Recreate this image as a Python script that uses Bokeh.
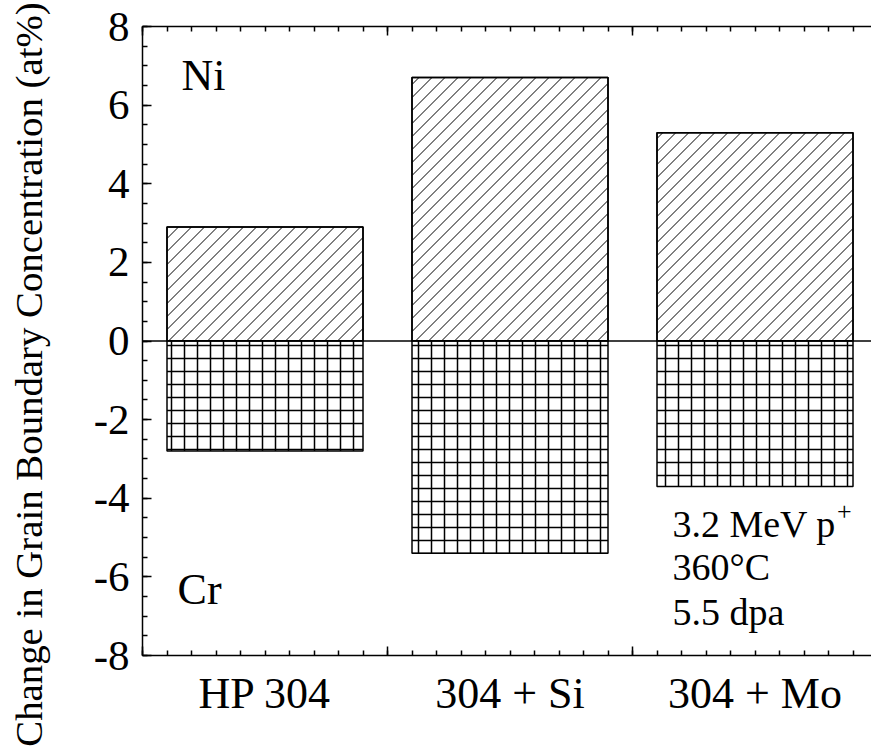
import numpy as np
from bokeh.plotting import figure
from bokeh.layouts import row
from bokeh.models import Range1d, LinearAxis, FixedTicker, Span, Div
from bokeh.core.properties import value
from bokeh.embed import file_html
from bokeh.resources import INLINE

# ---- data ----
categories = ["HP 304", "304 + Si", "304 + Mo"]
ni_change = [2.9, 6.7, 5.3]
cr_change = [-2.8, -5.4, -3.7]
x_pos = [0.5, 1.5, 2.5]
x_bounds = [0, 1, 2, 3]
y_ticks = [-8, -6, -4, -2, 0, 2, 4, 6, 8]
y_tick_labels = ["-8", "-6", "-4", "-2", "0", "2", "4", "6", "8"]
y_title = "Change in Grain Boundary Concentration (at%)"
note_lines = ["3.2 MeV p", "360°C", "5.5 dpa"]

FONT = "Liberation Serif"
BAR_W = 0.8

TOTAL_W, H = 871, 753
LW = 60                      # width of the strip holding the y title
W = TOTAL_W - LW
BL, BR, BT = 142 - LW, 0, 26
FRAME_H = 629
BB = H - BT - FRAME_H
px_per_unit = 245.0
x_end = (W - BL - BR) / px_per_unit
Y0, Y1 = -8, 8
px_per_yunit = FRAME_H / (Y1 - Y0)

# ---- y title strip (rotated HTML text) ----
title_html = (
    f'<div style="position:relative;width:{LW}px;height:{H}px;overflow:visible;">'
    f'<div style="position:absolute;left:9.5px;top:749px;width:749px;height:38.8px;'
    f'line-height:38.8px;transform:rotate(-90deg);transform-origin:0 0;text-align:center;'
    f'white-space:nowrap;font-family:\'Liberation Serif\';font-size:38.8px;color:black;">'
    f'{y_title}</div></div>'
)
t = Div(text=title_html, width=LW, height=H, margin=0)

# ---- main plot ----
p = figure(width=W, height=H, output_backend="svg", toolbar_location=None,
           x_range=Range1d(0, x_end), y_range=Range1d(Y0, Y1),
           x_axis_type=None, y_axis_type=None,
           min_border_left=BL, min_border_right=BR, min_border_top=BT, min_border_bottom=BB)
p.outline_line_color = None
p.background_fill_color = "white"
p.border_fill_color = "white"


def tick_axis(ticks, minor):
    ax = LinearAxis(ticker=FixedTicker(ticks=ticks, minor_ticks=minor))
    ax.major_tick_in = 9
    ax.major_tick_out = 0
    ax.minor_tick_in = 5
    ax.minor_tick_out = 0
    ax.axis_line_width = 1.5
    ax.axis_line_color = "black"
    ax.major_tick_line_width = 1.5
    ax.minor_tick_line_width = 1.5
    ax.major_tick_line_color = "black"
    ax.minor_tick_line_color = "black"
    return ax


y_minor = list(np.arange(-8, 8.01, 0.5))
x_minor = list(np.arange(0, 3.01, 0.1))

# left axis
yl = tick_axis(y_ticks, y_minor)
yl.major_label_overrides = {float(v): s for v, s in zip(y_ticks, y_tick_labels)}
yl.major_label_text_font = FONT
yl.major_label_text_font_size = "43px"
yl.major_label_text_color = "black"
yl.major_label_standoff = 13
p.add_layout(yl, "left")

# bottom tick axis (no labels)
xb = tick_axis(x_bounds, x_minor)
xb.major_label_overrides = {float(v): "" for v in x_bounds}
xb.major_label_text_font_size = "0px"
xb.major_label_standoff = 0
p.add_layout(xb, "below")

# bottom category label axis
xc = LinearAxis(ticker=FixedTicker(ticks=x_pos, minor_ticks=[]))
xc.major_label_overrides = {x: c for x, c in zip(x_pos, categories)}
xc.axis_line_color = None
xc.major_tick_line_color = None
xc.minor_tick_line_color = None
xc.major_tick_in = 0
xc.major_tick_out = 0
xc.major_label_text_font = FONT
xc.major_label_text_font_size = "44px"
xc.major_label_text_color = "black"
xc.major_label_standoff = 13
p.add_layout(xc, "below")

# top axis (no labels)
xt = tick_axis(x_bounds, x_minor)
xt.major_label_overrides = {float(v): "" for v in x_bounds}
xt.major_label_text_font_size = "0px"
xt.major_label_standoff = 0
p.add_layout(xt, "above")

# Ni bars: white fill, 45-degree "/" hatch lines computed from the bar extents
p.vbar(x=x_pos, top=ni_change, bottom=0, width=BAR_W,
       fill_color="white", line_color="black", line_width=1.5)

SPACING = 13.0  # hatch spacing in pixels (horizontal)
hx0, hy0, hx1, hy1 = [], [], [], []
for xc_, top in zip(x_pos, ni_change):
    X0 = (xc_ - BAR_W / 2) * px_per_unit
    X1 = (xc_ + BAR_W / 2) * px_per_unit
    YB, YT = 0.0, top * px_per_yunit
    c_lo = X0 - YT
    c_hi = X1 - YB
    for c in np.arange(np.ceil(c_lo / SPACING) * SPACING, c_hi, SPACING):
        xs = max(X0, YB + c)
        xe = min(X1, YT + c)
        if xe - xs > 0.5:
            hx0.append(xs / px_per_unit)
            hy0.append((xs - c) / px_per_yunit)
            hx1.append(xe / px_per_unit)
            hy1.append((xe - c) / px_per_yunit)
p.segment(x0=hx0, y0=hy0, x1=hx1, y1=hy1, line_color="black", line_width=1.0)
p.vbar(x=x_pos, top=ni_change, bottom=0, width=BAR_W,
       fill_color=None, line_color="black", line_width=1.5)

# Cr bars: cross hatch
p.vbar(x=x_pos, top=0, bottom=cr_change, width=BAR_W,
       fill_color="white", line_color="black", line_width=1.5,
       hatch_pattern="+", hatch_scale=13, hatch_weight=1.5, hatch_color="black")

p.add_layout(Span(location=0, dimension="width", line_color="black", line_width=1.5))


# texts (baseline positions, corrected for the renderer's baseline offset)
def lift(size_px):
    return 0.4 * size_px / px_per_yunit


p.text(x=[0.159], y=[6.30 + lift(44)], text=["Ni"], text_font=value(FONT), text_font_size="44px",
       text_align="left", text_baseline="alphabetic", text_color="black")
p.text(x=[0.143], y=[-6.78 + lift(44)], text=["Cr"], text_font=value(FONT), text_font_size="44px",
       text_align="left", text_baseline="alphabetic", text_color="black")
p.text(x=[2.163] * 3, y=[v + lift(38) for v in [-5.05, -6.14, -7.29]], text=note_lines,
       text_font=value(FONT), text_font_size="38px", text_align="left",
       text_baseline="alphabetic", text_color="black")
p.text(x=[2.835], y=[-4.61 + lift(26)], text=["+"], text_font=value(FONT), text_font_size="26px",
       text_align="left", text_baseline="alphabetic", text_color="black")

layout = row(t, p, spacing=0)
open("out.html", "w").write(file_html(layout, INLINE))
